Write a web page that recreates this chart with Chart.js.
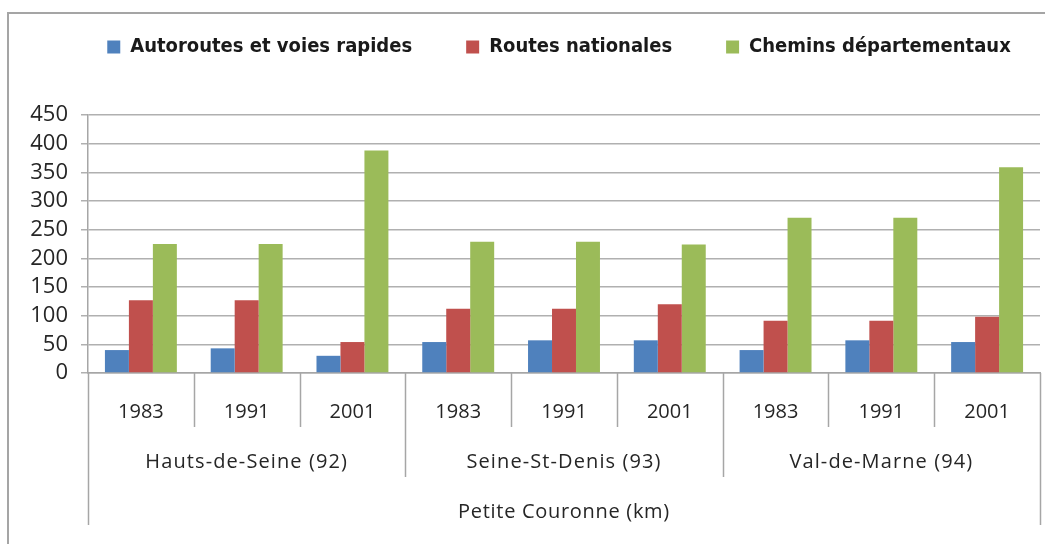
<!DOCTYPE html>
<html lang="fr">
<head>
<meta charset="utf-8">
<title>Réseau routier – Petite Couronne</title>
<script src="https://cdn.jsdelivr.net/npm/chart.js@4/dist/chart.umd.min.js"></script>
<style>
  html, body { margin: 0; padding: 0; background: #fff; }
  #wrap { position: relative; width: 1045px; height: 544px; overflow: hidden; }
  #frame {
    position: absolute; left: 7px; top: 12px; right: -4px; bottom: -4px;
    border-left: 2px solid #a5a5a5; border-top: 2px solid #a5a5a5;
  }
  #roads { position: absolute; left: 0; top: 0; }
</style>
</head>
<body>
<div id="wrap">
  <div id="frame"></div>
  <canvas id="roads" width="1045" height="544"></canvas>
</div>
<script>
/* globals Chart:false */

const years = ['1983', '1991', '2001', '1983', '1991', '2001', '1983', '1991', '2001']
const departements = ['Hauts-de-Seine (92)', 'Seine-St-Denis (93)', 'Val-de-Marne (94)']
const axisTitle = 'Petite Couronne (km)'

// longueur du réseau (km)
const autoroutes = [40, 43, 30, 54, 57, 57, 40, 57, 54]
const routesNationales = [127, 127, 54, 112, 112, 120, 91, 91, 98]
const cheminsDepartementaux = [225, 225, 388, 229, 229, 224, 271, 271, 359];

(() => {
  'use strict'

  const el = document.getElementById('roads')
  if (!el) {
    return
  }

  const lineColor = '#a6a6a6'
  const textColor = '#262626'
  const labelFont = '"Open Sans", "Noto Sans", sans-serif'

  // fixed-height legend band, nudged right of the canvas centre
  const legendBox = {
    id: 'legendBox',
    beforeInit (chart) {
      const fit = chart.legend.fit
      chart.legend.fit = function () {
        fit.call(this)
        this.height = 132
      }
    },
    afterLayout (chart) {
      chart.legend.left += 35
      chart.legend.right += 35
    }
  }

  // separators and the two lower rows of the category axis
  const groupedAxis = {
    id: 'groupedAxis',
    afterDraw (chart) {
      const { ctx } = chart
      const x = chart.scales.x
      const top = chart.chartArea.bottom
      const n = years.length
      const perGroup = n / departements.length
      const edge = i => {
        if (i === 0) return x.left
        if (i === n) return x.right
        return (x.getPixelForValue(i - 1) + x.getPixelForValue(i)) / 2
      }

      ctx.save()
      ctx.strokeStyle = lineColor
      ctx.lineWidth = 1.5
      for (let i = 0; i <= n; i++) {
        let len = 54
        if (i === 0 || i === n) len = 152
        else if (i % perGroup === 0) len = 104
        const px = Math.round(edge(i)) + 0.5
        ctx.beginPath()
        ctx.moveTo(px, top)
        ctx.lineTo(px, top + len)
        ctx.stroke()
      }

      ctx.fillStyle = textColor
      ctx.textAlign = 'center'
      ctx.textBaseline = 'middle'
      ctx.font = '20px ' + labelFont
      ctx.letterSpacing = '1.1px'
      departements.forEach((name, g) => {
        const cx = (edge(g * perGroup) + edge((g + 1) * perGroup)) / 2
        ctx.fillText(name, cx, top + 89)
      })
      ctx.letterSpacing = '0.7px'
      ctx.fillText(axisTitle, (x.left + x.right) / 2, top + 139)
      ctx.restore()
    }
  }

  // eslint-disable-next-line no-unused-vars
  const roadsChart = new Chart(el, {
    type: 'bar',
    data: {
      labels: years,
      datasets: [
        {
          label: 'Autoroutes et voies rapides',
          data: autoroutes,
          backgroundColor: '#4f81bd'
        },
        {
          label: 'Routes nationales',
          data: routesNationales,
          backgroundColor: '#c0504d'
        },
        {
          label: 'Chemins départementaux',
          data: cheminsDepartementaux,
          backgroundColor: '#9bbb59'
        }
      ]
    },
    options: {
      responsive: false,
      animation: false,
      devicePixelRatio: 1,
      layout: {
        padding: { top: -17, left: 8, right: 5, bottom: 0 }
      },
      datasets: {
        bar: {
          categoryPercentage: 0.68,
          barPercentage: 1
        }
      },
      plugins: {
        legend: {
          display: true,
          position: 'top',
          labels: {
            boxWidth: 13,
            boxHeight: 13,
            padding: 54,
            color: '#1a1a1a',
            font: { family: '"Liberation Sans Narrow", "DejaVu Sans Condensed", sans-serif', size: 20, weight: 'bold' }
          }
        },
        tooltip: { enabled: false }
      },
      scales: {
        x: {
          grid: { display: false },
          border: { display: true, color: lineColor, width: 1.5 },
          ticks: {
            color: textColor,
            padding: 19,
            font: { family: labelFont, size: 20 }
          },
          afterFit: scale => { scale.height = 171 }
        },
        y: {
          min: 0,
          max: 450,
          ticks: {
            stepSize: 50,
            autoSkip: false,
            color: textColor,
            padding: 13,
            font: { family: labelFont, size: 22 }
          },
          grid: {
            color: '#b0b0b0',
            lineWidth: 1.5,
            tickLength: 7
          },
          border: { display: true, color: lineColor, width: 1.5 },
          afterFit: scale => { scale.width = 80 }
        }
      }
    },
    plugins: [legendBox, groupedAxis]
  })
})()
</script>
</body>
</html>
